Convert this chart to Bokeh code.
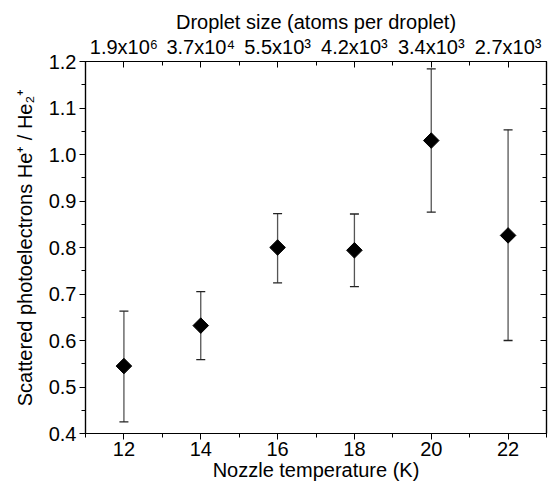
import numpy as np
from bokeh.plotting import figure
from bokeh.models import (LinearAxis, FixedTicker, Range1d, ColumnDataSource, Whisker,
                          TeeHead, NumeralTickFormatter)
from bokeh.embed import file_html
from bokeh.resources import INLINE

# ---- data ----
temperature = [12, 14, 16, 18, 20, 22]
ratio = [0.545, 0.632, 0.800, 0.794, 1.030, 0.826]
err_upper = [0.663, 0.705, 0.873, 0.872, 1.184, 1.053]
err_lower = [0.425, 0.559, 0.724, 0.716, 0.876, 0.600]
droplet_labels = ["1.9x10\u2076", "3.7x10\u2074", "5.5x10\u00b3", "4.2x10\u00b3", "3.4x10\u00b3", "2.7x10\u00b3"]
x_ticks = [12, 14, 16, 18, 20, 22]
x_minor = [11, 13, 15, 17, 19, 21, 23]
y_ticks = [0.4, 0.5, 0.6, 0.7, 0.8, 0.9, 1.0, 1.1, 1.2]
y_minor = [0.45, 0.55, 0.65, 0.75, 0.85, 0.95, 1.05, 1.15]

FONT = "Liberation Sans"
FS = "20px"

p = figure(width=551, height=487, output_backend="svg", toolbar_location=None,
           x_range=Range1d(11, 23), y_range=Range1d(0.4, 1.2),
           min_border_left=85, min_border_right=5, min_border_top=61, min_border_bottom=54,
           background_fill_color="white", border_fill_color="white")
p.xgrid.visible = False
p.ygrid.visible = False
p.outline_line_color = "black"
p.outline_line_width = 1.2

def style_axis(ax):
    ax.axis_line_color = "black"
    ax.axis_line_width = 1.2
    ax.major_tick_line_color = "black"
    ax.minor_tick_line_color = "black"
    ax.major_label_text_font = FONT
    ax.major_label_text_font_size = FS
    ax.major_label_text_color = "black"
    ax.axis_label_text_font = FONT
    ax.axis_label_text_font_size = FS
    ax.axis_label_text_font_style = "normal"
    ax.axis_label_text_color = "black"

# bottom axis
xa = p.xaxis[0]
xa.ticker = FixedTicker(ticks=x_ticks, minor_ticks=x_minor)
xa.axis_label = "Nozzle temperature (K)"
style_axis(xa)
xa.major_tick_out = 6
xa.major_tick_in = 0
xa.minor_tick_out = 4
xa.minor_tick_in = 0
xa.major_label_standoff = 2
xa.axis_label_standoff = 0

# left axis
ya = p.yaxis[0]
ya.ticker = FixedTicker(ticks=y_ticks, minor_ticks=y_minor)
ya.formatter = NumeralTickFormatter(format="0.0")
ya.axis_label = "Scattered photoelectrons He\u207a / He\u2082\u207a"
style_axis(ya)
ya.major_tick_out = 6
ya.major_tick_in = 0
ya.minor_tick_out = 4
ya.minor_tick_in = 0
ya.major_label_standoff = 3
ya.axis_label_standoff = 10

# top axis
ta = LinearAxis(ticker=FixedTicker(ticks=x_ticks, minor_ticks=x_minor),
                axis_label="Droplet size (atoms per droplet)")
ta.major_label_overrides = {t: lab for t, lab in zip(x_ticks, droplet_labels)}
style_axis(ta)
ta.major_tick_in = 6
ta.major_tick_out = 0
ta.minor_tick_in = 4
ta.minor_tick_out = 0
ta.major_label_standoff = 4
ta.axis_label_standoff = 0
p.add_layout(ta, "above")

# right axis (ticks only)
ra = LinearAxis(ticker=FixedTicker(ticks=y_ticks, minor_ticks=y_minor))
style_axis(ra)
ra.major_label_overrides = {t: "" for t in y_ticks}
ra.major_tick_in = 6
ra.major_tick_out = 0
ra.minor_tick_in = 4
ra.minor_tick_out = 0
ra.major_label_standoff = 0
p.add_layout(ra, "right")

src = ColumnDataSource(dict(x=temperature, y=ratio, upper=err_upper, lower=err_lower))
w = Whisker(base="x", upper="upper", lower="lower", source=src,
            line_color="#555555", line_width=1.3,
            upper_head=TeeHead(size=9, line_color="#222222", line_width=1.3),
            lower_head=TeeHead(size=9, line_color="#222222", line_width=1.3))
p.add_layout(w)

p.scatter("x", "y", source=src, marker="square", angle=np.pi / 4, size=11,
          fill_color="black", line_color="black")

open("out.html", "w").write(file_html(p, INLINE))
